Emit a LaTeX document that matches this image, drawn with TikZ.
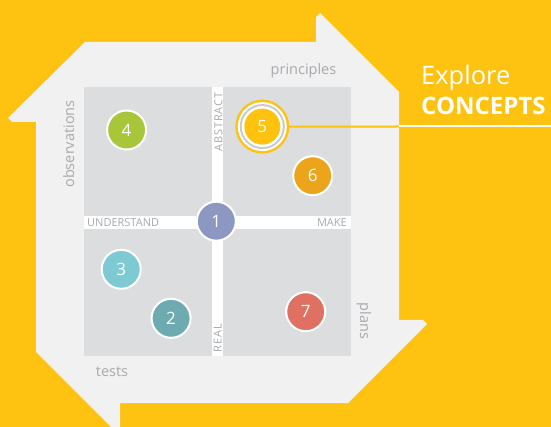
\documentclass[tikz,border=0pt]{standalone}
\usepackage{fontspec}
\setmainfont{Open Sans}
\definecolor{bgyellow}{HTML}{FEC211}
\definecolor{shapegrey}{HTML}{F1F1F2}
\definecolor{sqgrey}{HTML}{DCDDDE}
\definecolor{labelgrey}{HTML}{A7A9AC}
\definecolor{ringgrey}{HTML}{C8C9CB}
\definecolor{cA}{HTML}{8C97C2}
\definecolor{cB}{HTML}{6EABB1}
\definecolor{cC}{HTML}{7ECAD3}
\definecolor{cD}{HTML}{A8C639}
\definecolor{cE}{HTML}{FEC20F}
\definecolor{cF}{HTML}{ECA51B}
\definecolor{cG}{HTML}{E07162}
\begin{document}
\begin{tikzpicture}[x=1pt,y=-1pt,
  circ/.style={circle, draw=white, line width=2pt, minimum size=39pt, inner sep=0pt, text=white, font=\fontsize{17}{17}\selectfont},
  lbl/.style={text=labelgrey, font=\fontsize{14.5}{14.5}\selectfont, inner sep=0pt},
  axislbl/.style={text=labelgrey, font=\fontsize{11}{11}\selectfont, inner sep=0pt},
  vaxislbl/.style={text=labelgrey, font=\fontsize{11}{11}\selectfont\addfontfeatures{LetterSpace=8}, inner sep=0pt},
  headlbl/.style={text=white, inner sep=0pt, anchor=base west},
]
\fill[bgyellow] (0,0) rectangle (551,427);
\useasboundingbox (0,0) rectangle (551,427);
\fill[shapegrey] (85,42) -- (316,42) -- (316,17) -- (320,13) -- (399,92) -- (399,320) -- (423,320) -- (427,324) -- (348,403) -- (120,403) -- (120,428) -- (116,432) -- (36,352) -- (36,122) -- (12,122) -- (8,118) -- cycle;
\fill[sqgrey] (84,87) rectangle (351,356);
\fill[white] (212,87) rectangle (222.5,356);
\fill[white] (84,216) rectangle (351,229);

% side labels
\node[lbl, anchor=base] (tprin) at (303.5,75) {principles};
\node[lbl, anchor=base, rotate=90] (tobs) at (74,144) {observations};
\node[lbl, anchor=base] (ttests) at (112,376.7) {tests};
\node[lbl, anchor=base, rotate=-90] (tplans) at (360,321) {plans};

% axis labels
\node[axislbl, anchor=base west] (tund) at (87,226.7) {UNDERSTAND};
\node[axislbl, anchor=base east] (tmake) at (347,226.7) {MAKE};
\node[vaxislbl, anchor=base, rotate=90] (tabs) at (222.3,122) {ABSTRACT};
\node[vaxislbl, anchor=base, rotate=90] (treal) at (221.7,338) {REAL};

% circles
\node[circ, fill=cA] (n1) at (216.3,221.2) {1};
\node[circ, fill=cB] (n2) at (171.1,318.3) {2};
\node[circ, fill=cC] (n3) at (121.2,269.3) {3};
\node[circ, fill=cD] (n4) at (126.6,130) {4};
\node[circ, fill=cF] (n6) at (312.7,175.7) {6};
\node[circ, fill=cG] (n7) at (305.7,311.7) {7};

% circle 5 with rings
\coordinate (p5) at (262.3,126.6);
\fill[cE] (p5) circle[radius=27pt];
\fill[white] (p5) circle[radius=24.5pt];
\fill[ringgrey] (p5) circle[radius=22.5pt];
\fill[white] (p5) circle[radius=20.5pt];
\node[circle, fill=cE, minimum size=36pt, inner sep=0pt, text=white, font=\fontsize{17}{17}\selectfont] (n5) at (p5) {5};
\node[circle, minimum size=53pt, inner sep=0pt] (ring5) at (p5) {};
\coordinate (edge5) at (399,126.5);
\coordinate (end5) at (551,126.5);
\draw[cE, line width=2pt] (ring5.east) -- (edge5);
\draw[white, line width=2pt] (edge5) -- (end5);

% heading
\node[headlbl, font=\fontsize{25.5}{25.5}\selectfont] (hexp) at (421,85) {Explore};
\node[headlbl, font=\bfseries\fontsize{24}{24}\selectfont] (hcon) at (421,114.3) {CONCEPTS};
\end{tikzpicture}
\end{document}
